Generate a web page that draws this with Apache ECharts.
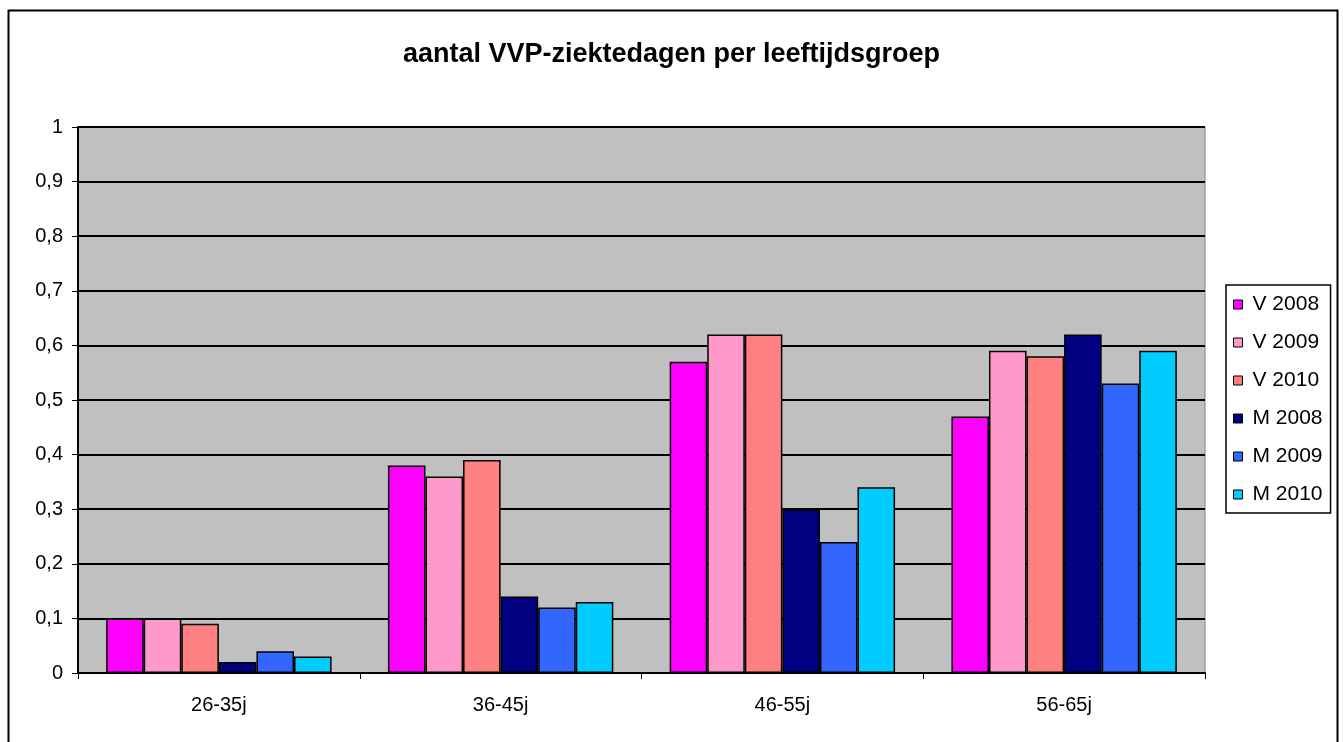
<!DOCTYPE html>
<html>
<head>
<meta charset="UTF-8">
<title>aantal VVP-ziektedagen per leeftijdsgroep</title>
<script src="https://cdn.jsdelivr.net/npm/echarts@6/dist/echarts.min.js"></script>
<style>
  html, body { margin: 0; padding: 0; background: #fff; }
  #chart { width: 1343px; height: 742px; }
</style>
</head>
<body>
<div id="chart"></div>
<script>
// data
var groups = ['26-35j', '36-45j', '46-55j', '56-65j'];
var seriesNames = ['V 2008', 'V 2009', 'V 2010', 'M 2008', 'M 2009', 'M 2010'];
var seriesColors = ['#FF00FF', '#FF99CC', '#FF8080', '#000080', '#3366FF', '#00CCFF'];
var v2008 = [0.10, 0.38, 0.57, 0.47];
var v2009 = [0.10, 0.36, 0.62, 0.59];
var v2010 = [0.09, 0.39, 0.62, 0.58];
var m2008 = [0.02, 0.14, 0.30, 0.62];
var m2009 = [0.04, 0.12, 0.24, 0.53];
var m2010 = [0.03, 0.13, 0.34, 0.59];
var allValues = [v2008, v2009, v2010, m2008, m2009, m2010];

var chart = echarts.init(document.getElementById('chart'));

var series = seriesNames.map(function (name, i) {
  return {
    name: name,
    type: 'bar',
    data: allValues[i],
    barGap: '0%',
    barCategoryGap: '20%',
    itemStyle: { color: seriesColors[i], borderColor: '#000', borderWidth: 1.5 }
  };
});

var option = {
  animation: false,
  textStyle: { fontFamily: 'Liberation Sans, Arial, sans-serif' },
  graphic: [{
    type: 'rect',
    shape: { x: 8.5, y: 10.5, width: 1329, height: 740 },
    style: { fill: null, stroke: '#000', lineWidth: 2 },
    silent: true
  }],
  title: {
    text: 'aantal VVP-ziektedagen per leeftijdsgroep',
    left: 'center',
    top: 36,
    textStyle: { fontSize: 27, fontWeight: 'bold', color: '#000', fontFamily: 'Liberation Sans, Arial, sans-serif' }
  },
  legend: {
    orient: 'vertical',
    left: 1226,
    top: 285,
    padding: [9, 8, 8, 7],
    itemWidth: 9,
    itemHeight: 9,
    itemGap: 17,
    borderColor: '#000',
    borderWidth: 1.5,
    icon: 'rect',
    itemStyle: { borderColor: '#000', borderWidth: 1 },
    textStyle: { fontSize: 21, lineHeight: 21, color: '#000', padding: [0, 0, 0, 5] },
    data: seriesNames
  },
  grid: {
    left: 78,
    top: 127,
    width: 1127,
    height: 546,
    show: true,
    backgroundColor: '#C0C0C0',
    borderColor: '#808080',
    borderWidth: 1
  },
  xAxis: {
    type: 'category',
    data: groups,
    axisLine: { lineStyle: { color: '#000', width: 2 } },
    axisTick: { show: true, length: 6, lineStyle: { color: '#000' } },
    axisLabel: { fontSize: 20, color: '#000', margin: 22 }
  },
  yAxis: {
    type: 'value',
    min: 0,
    max: 1,
    interval: 0.1,
    axisLine: { show: true, lineStyle: { color: '#000', width: 2 } },
    axisTick: { show: true, length: 6, lineStyle: { color: '#000' } },
    axisLabel: {
      fontSize: 20,
      color: '#000',
      margin: 15,
      formatter: function (v) { return String(Math.round(v * 10) / 10).replace('.', ','); }
    },
    splitLine: { lineStyle: { color: '#000', width: 2 } }
  },
  series: series
};

chart.setOption(option);
</script>
</body>
</html>
